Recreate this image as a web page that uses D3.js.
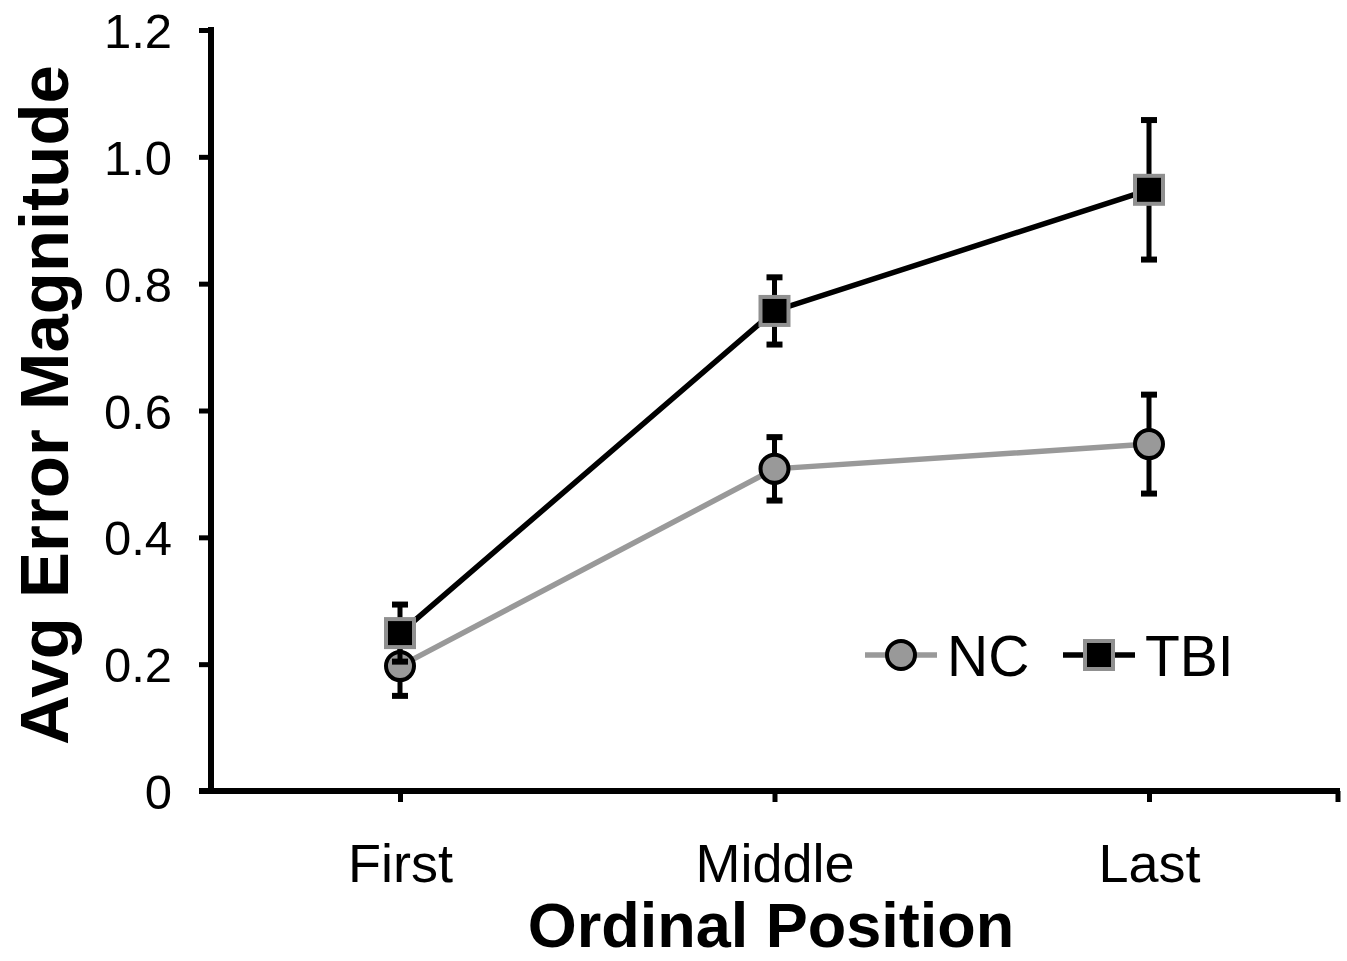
<!DOCTYPE html>
<html>
<head>
<meta charset="utf-8">
<script src="https://cdn.jsdelivr.net/npm/d3@7"></script>
<style>
  body { margin: 0; background: #fff; }
  text { font-family: "Liberation Sans", Arial, sans-serif; fill: #000; }
</style>
</head>
<body>
<div id="chart"></div>
<script>
var categories = ["First", "Middle", "Last"];
var ncMeans = [0.197, 0.508, 0.547];
var ncErr = [0.047, 0.05, 0.078];
var tbiMeans = [0.249, 0.757, 0.948];
var tbiErr = [0.045, 0.053, 0.11];
var yTicks = [0, 0.2, 0.4, 0.6, 0.8, 1.0, 1.2];

var width = 1347, height = 961;
var mLeft = 211, mRight = 1338, mTop = 30, mBottom = 791;

var svg = d3.select("#chart").append("svg")
  .attr("width", width).attr("height", height);

var x = d3.scalePoint().domain(categories).range([400, 1149]);
var y = d3.scaleLinear().domain([0, 1.2]).range([mBottom, mTop]);

// y axis
var yAxis = svg.append("g").attr("transform", "translate(" + mLeft + ",0)")
  .call(d3.axisLeft(y).tickValues(yTicks).tickSize(12).tickPadding(27)
    .tickFormat(function (d) { return d === 0 ? "0" : d3.format(".1f")(d); }));
yAxis.select(".domain").remove();
yAxis.append("line").attr("x1", 0).attr("x2", 0).attr("y1", mTop - 3).attr("y2", mBottom + 2)
  .attr("stroke", "#000").attr("stroke-width", 6);
yAxis.selectAll(".tick line").attr("stroke", "#000").attr("stroke-width", 5);
yAxis.selectAll(".tick text").style("font-size", "49px").attr("dy", "0.36em");

// x axis
var xAxis = svg.append("g").attr("transform", "translate(0," + mBottom + ")")
  .call(d3.axisBottom(x).tickSize(11).tickPadding(42));
xAxis.select(".domain").remove();
xAxis.append("line").attr("x1", mLeft - 12).attr("x2", mRight + 2).attr("y1", 0).attr("y2", 0)
  .attr("stroke", "#000").attr("stroke-width", 6);
xAxis.append("line").attr("x1", mRight).attr("x2", mRight).attr("y1", 0).attr("y2", 11)
  .attr("stroke", "#000").attr("stroke-width", 5);
xAxis.selectAll(".tick line").attr("stroke", "#000").attr("stroke-width", 5);
xAxis.selectAll(".tick text").style("font-size", "54px").attr("dy", "0.71em");

// titles
svg.append("text").attr("x", 771).attr("y", 947).attr("text-anchor", "middle")
  .style("font-size", "63px").style("font-weight", "bold").text("Ordinal Position");
svg.append("text").attr("transform", "translate(68,405) rotate(-90)").attr("text-anchor", "middle")
  .style("font-size", "69px").style("font-weight", "bold").text("Avg Error Magnitude");

var line = d3.line().x(function (d, i) { return x(categories[i]); }).y(function (d) { return y(d); });

function drawSeries(means, errs, color, kind) {
  var g = svg.append("g");
  g.append("path").datum(means).attr("d", line).attr("fill", "none")
    .attr("stroke", color).attr("stroke-width", 5.5);
  means.forEach(function (m, i) {
    var cx = x(categories[i]);
    var hi = y(m + errs[i]), lo = y(m - errs[i]);
    g.append("line").attr("x1", cx).attr("x2", cx).attr("y1", hi).attr("y2", lo)
      .attr("stroke", "#000").attr("stroke-width", 5);
    [hi, lo].forEach(function (yy) {
      g.append("line").attr("x1", cx - 8).attr("x2", cx + 8).attr("y1", yy).attr("y2", yy)
        .attr("stroke", "#000").attr("stroke-width", 6);
    });
  });
  means.forEach(function (m, i) {
    marker(g, x(categories[i]), y(m), kind);
  });
}

function marker(g, cx, cy, kind) {
  if (kind === "circle") {
    g.append("circle").attr("cx", cx).attr("cy", cy).attr("r", 14)
      .attr("fill", "#999").attr("stroke", "#000").attr("stroke-width", 4);
  } else {
    g.append("rect").attr("x", cx - 14).attr("y", cy - 14).attr("width", 28).attr("height", 28)
      .attr("fill", "#000").attr("stroke", "#909090").attr("stroke-width", 4);
  }
}

drawSeries(ncMeans, ncErr, "#999", "circle");
drawSeries(tbiMeans, tbiErr, "#000", "square");

// legend
var legend = [
  { name: "NC", color: "#999", kind: "circle", x: 865 },
  { name: "TBI", color: "#000", kind: "square", x: 1063 }
];
legend.forEach(function (d) {
  var ly = 655;
  svg.append("line").attr("x1", d.x).attr("x2", d.x + 72).attr("y1", ly).attr("y2", ly)
    .attr("stroke", d.color).attr("stroke-width", 5.5);
  marker(svg, d.x + 36, ly, d.kind);
  svg.append("text").attr("x", d.x + 82).attr("y", ly).attr("dy", "0.36em")
    .style("font-size", "57px").text(d.name);
});
</script>
</body>
</html>
